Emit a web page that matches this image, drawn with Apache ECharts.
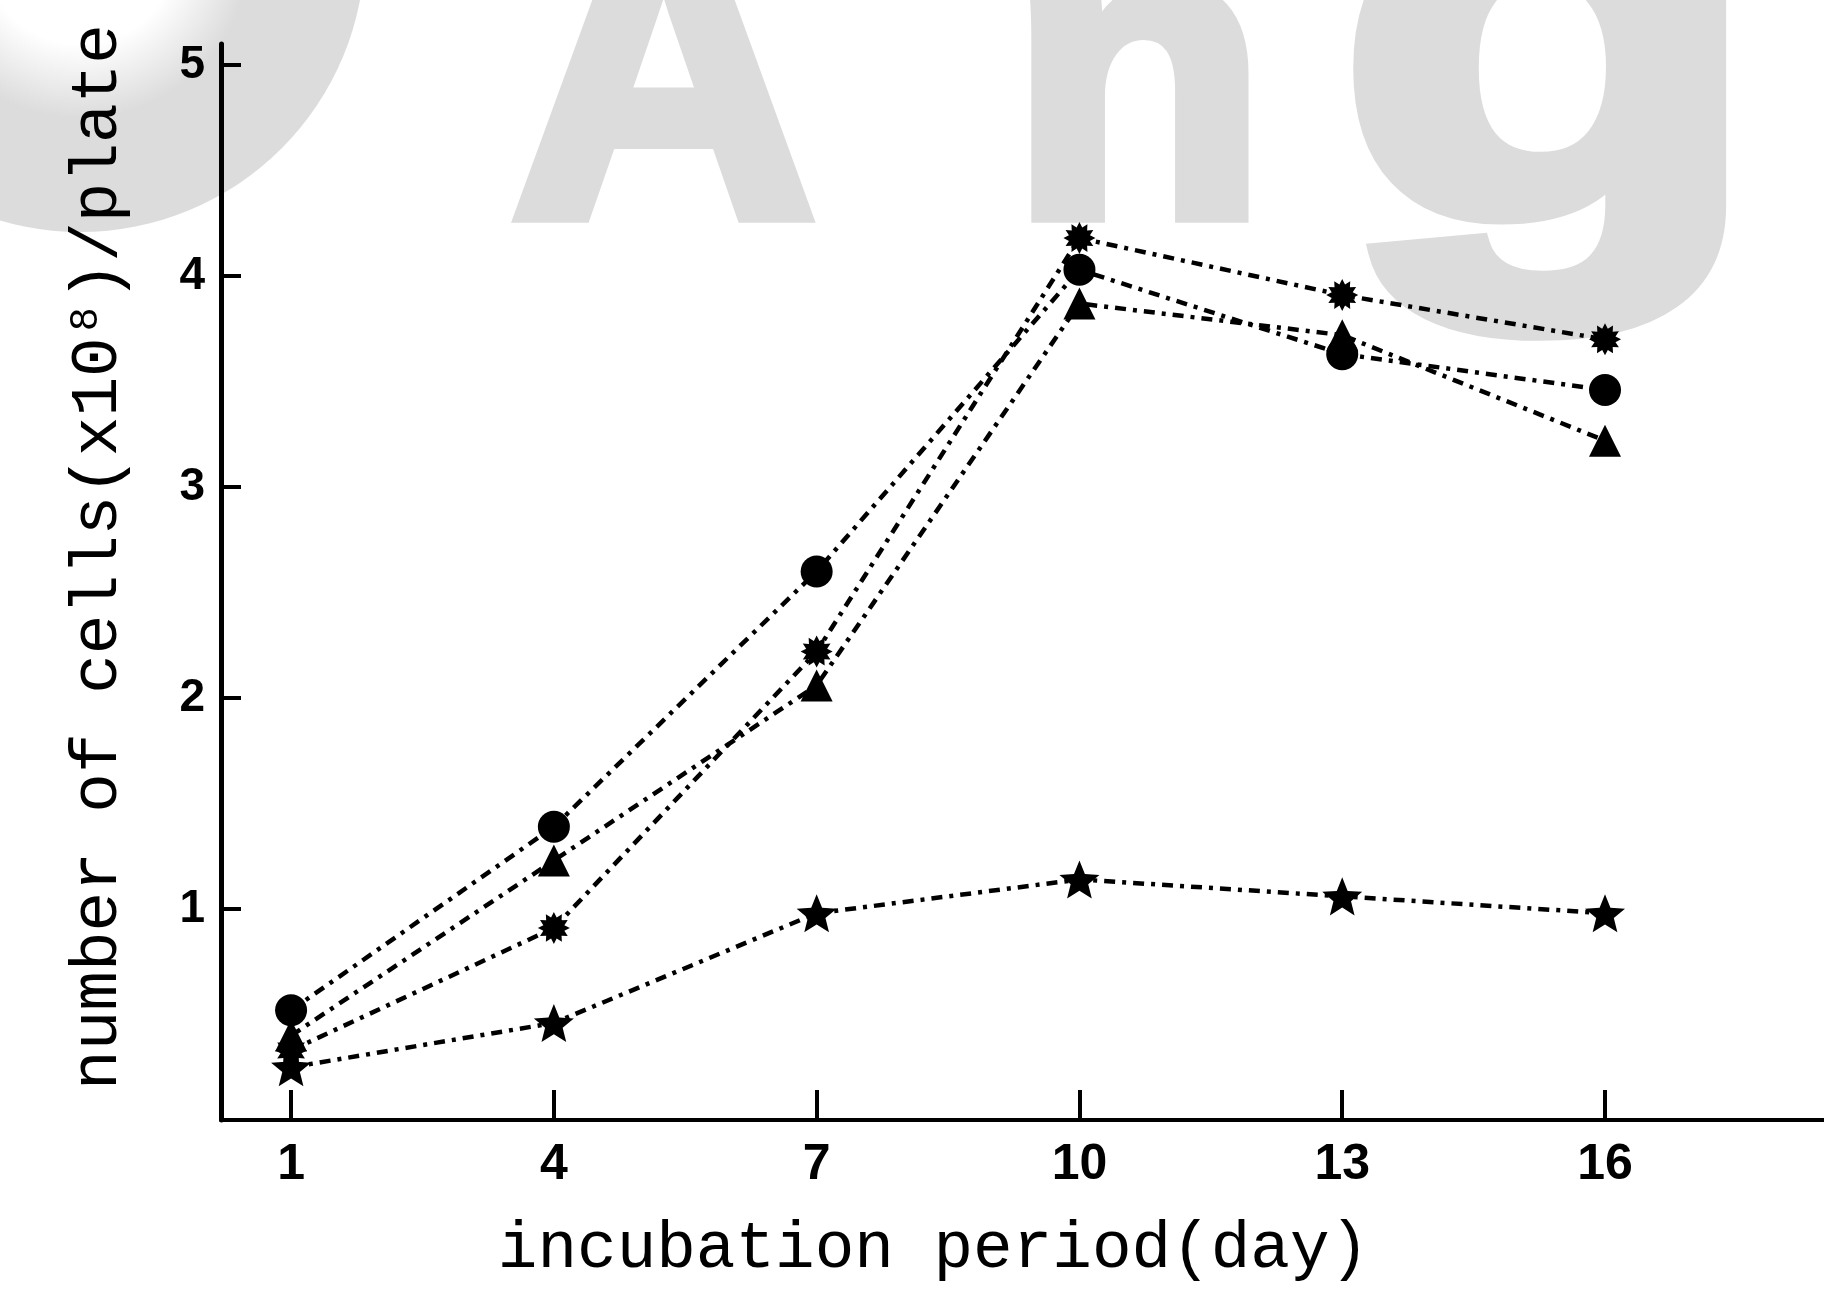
<!DOCTYPE html>
<html>
<head>
<meta charset="utf-8">
<script src="https://cdn.jsdelivr.net/npm/echarts@6/dist/echarts.min.js"></script>
<style>
  html, body { margin: 0; padding: 0; background: #fff; }
  #chart { width: 1824px; height: 1307px; }
</style>
</head>
<body>
<div id="chart"></div>
<script>
// incubation days and cell counts (x10^8 cells per plate)
const days = [1, 4, 7, 10, 13, 16];
const circleValues = [0.52, 1.39, 2.60, 4.03, 3.63, 3.46];
const triangleValues = [0.40, 1.23, 2.06, 3.87, 3.72, 3.22];
const burstValues = [0.33, 0.91, 2.22, 4.18, 3.91, 3.70];
const starValues = [0.25, 0.46, 0.98, 1.14, 1.06, 0.98];

// tick positions / labels
const xTicks = [1, 4, 7, 10, 13, 16];
const yTicks = [1, 2, 3, 4, 5];

const MONO = '"Liberation Mono", "DejaVu Sans Mono", monospace';
const SANS = '"Liberation Sans", Arial, sans-serif';
const WATERMARK = '#dcdcdc';

// star-shaped marker outline in a 100x100 box
function starPath(points, outer, inner) {
  let d = '';
  for (let i = 0; i < points * 2; i++) {
    const r = i % 2 === 0 ? outer : inner;
    const a = -Math.PI / 2 + i * Math.PI / points;
    d += (i === 0 ? 'M' : 'L') + (50 + r * Math.cos(a)).toFixed(2) + ' ' + (50 + r * Math.sin(a)).toFixed(2) + ' ';
  }
  return 'path://' + d + 'Z';
}
const burstSymbol = starPath(12, 50, 34);
const fiveStarSymbol = starPath(5, 50, 22);

function lineSeries(name, values, symbol, size) {
  return {
    name: name,
    type: 'line',
    data: days.map((d, i) => [d, values[i]]),
    symbol: symbol,
    symbolSize: size,
    symbolKeepAspect: true,
    showSymbol: true,
    lineStyle: { color: '#000', width: 4.5, type: [11, 7, 4, 7] },
    itemStyle: { color: '#000', borderWidth: 0 },
    emphasis: { disabled: true },
    animation: false,
    z: 3
  };
}

// faint background lettering
function watermarkLetter(ch, x, sx, sy) {
  return {
    type: 'text', silent: true, z: -10, x: x, y: 99,
    originX: 0, originY: 116, scaleX: sx, scaleY: sy,
    style: {
      text: ch, font: 'bold 420px "Liberation Sans"',
      fill: WATERMARK, stroke: WATERMARK, lineWidth: 16,
      textVerticalAlign: 'middle'
    }
  };
}

const chart = echarts.init(document.getElementById('chart'), null, { renderer: 'canvas' });

chart.setOption({
  backgroundColor: '#fff',
  animation: false,
  graphic: [
    {
      type: 'circle', silent: true, z: -10,
      shape: { cx: 80, cy: -53, r: 285 },
      style: {
        fill: {
          type: 'radial', x: 0.5, y: 0.5, r: 0.5,
          colorStops: [
            { offset: 0, color: '#ffffff' },
            { offset: 0.34, color: '#ffffff' },
            { offset: 0.6, color: WATERMARK },
            { offset: 1, color: WATERMARK }
          ]
        }
      }
    },
    watermarkLetter('A', 512, 1, 1),
    watermarkLetter('n', 1010, 1, 1),
    watermarkLetter('g', 1338, 1.65, 1.3)
  ],
  grid: { left: 221, right: 0, top: 44, bottom: 187, containLabel: false, outerBoundsMode: 'none' },
  xAxis: {
    type: 'value',
    min: 0.2,
    max: 18.5,
    name: 'incubation period(day)',
    nameLocation: 'middle',
    nameGap: 97,
    nameTextStyle: { fontFamily: MONO, fontSize: 66, color: '#000', padding: [0, 178, 0, 0] },
    axisLine: { show: true, onZero: false, lineStyle: { color: '#000', width: 4 } },
    axisTick: { show: true, inside: true, length: 30, customValues: xTicks, lineStyle: { color: '#000', width: 4 } },
    axisLabel: { show: true, customValues: xTicks, fontFamily: SANS, fontWeight: 'bold', fontSize: 50, color: '#000', margin: 20 },
    splitLine: { show: false }
  },
  yAxis: {
    type: 'value',
    min: 0,
    max: 5.1,
    name: 'number of cells(x10{s|8})/plate',
    nameLocation: 'middle',
    nameRotate: 90,
    nameGap: 89,
    nameTextStyle: {
      fontFamily: MONO, fontSize: 66, color: '#000', padding: [0, 0, 0, 50],
      rich: { s: { fontFamily: MONO, fontSize: 40, color: '#000', verticalAlign: 'top', padding: [0, 6, 0, 6] } }
    },
    axisLine: { show: true, onZero: false, lineStyle: { color: '#000', width: 5 } },
    axisTick: { show: true, inside: true, length: 20, customValues: yTicks, lineStyle: { color: '#000', width: 4 } },
    axisLabel: { show: true, customValues: yTicks, fontFamily: SANS, fontWeight: 'bold', fontSize: 46, color: '#000', margin: 16 },
    splitLine: { show: false }
  },
  series: [
    lineSeries('circle', circleValues, 'circle', 32),
    lineSeries('triangle', triangleValues, 'triangle', 32),
    lineSeries('burst', burstValues, burstSymbol, 32),
    lineSeries('star', starValues, fiveStarSymbol, 40)
  ]
});
</script>
</body>
</html>
